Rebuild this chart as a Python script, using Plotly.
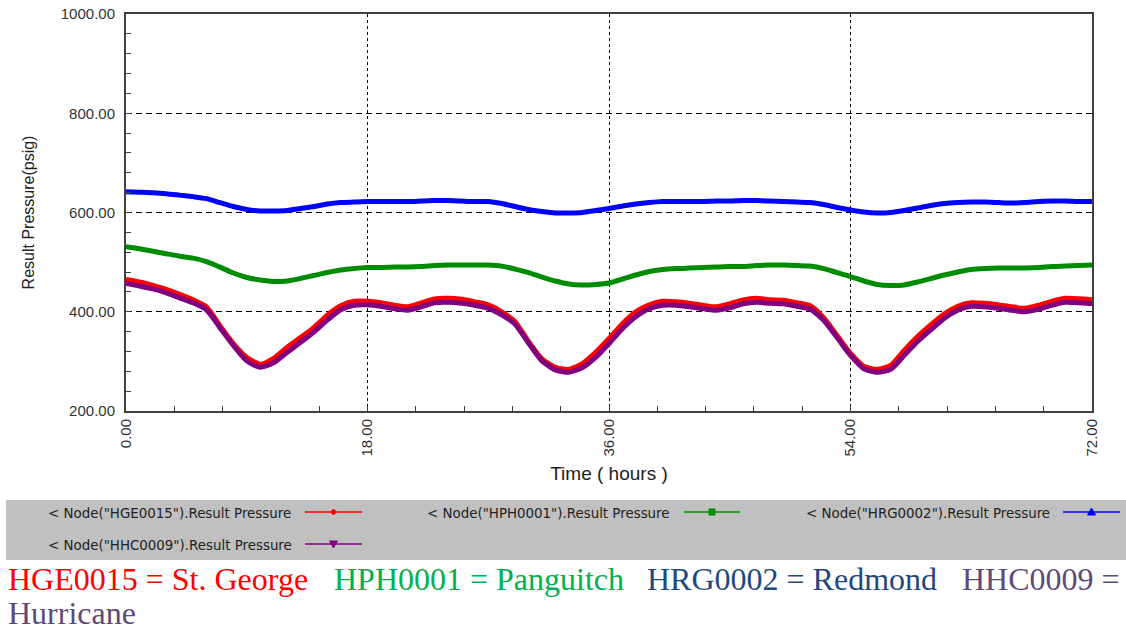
import plotly.graph_objects as go

hours = list(range(0, 73))

hge0015 = [465, 460, 453, 445, 435, 424, 410, 372, 336, 308, 294, 306, 328, 348, 368, 393, 412, 421, 421, 418, 413, 410, 418, 426, 427,
           425, 420, 414, 400, 380, 340, 305, 288, 284, 295, 318, 346, 376, 400, 414, 421, 420, 417, 413, 410, 416, 424, 427, 424,
           423, 418, 412, 388, 352, 316, 290, 284, 292, 322, 350, 374, 396, 411, 418, 417, 414, 410, 407, 413, 421, 427, 426, 424]
hph0001 = [531, 527, 522, 517, 512, 508, 501, 490, 478, 469, 464, 461, 462, 467, 473, 479, 484, 487, 489, 489, 490, 490, 491, 493, 494,
           494, 494, 494, 492, 486, 479, 470, 462, 456, 454, 455, 458, 466, 474, 481, 485, 487, 488, 489, 490, 491, 491, 493, 494,
           494, 493, 492, 487, 479, 471, 462, 455, 453, 454, 460, 467, 474, 480, 485, 487, 488, 488, 488, 489, 491, 492, 493, 494]
hrg0002 = [642, 641, 640, 638, 635, 632, 628, 620, 612, 606, 603, 603, 604, 608, 612, 617, 620, 621, 622, 622, 622, 622, 623, 624, 624,
           623, 622, 622, 618, 612, 606, 602, 599, 599, 600, 604, 608, 613, 617, 620, 622, 622, 622, 622, 623, 623, 624, 624, 623,
           622, 621, 620, 616, 610, 605, 601, 599, 600, 604, 609, 614, 618, 620, 621, 621, 620, 619, 620, 622, 623, 623, 622, 622]
hhc0009 = [457, 452, 446, 438, 428, 418, 404, 368, 332, 301, 288, 297, 318, 338, 359, 383, 404, 413, 414, 411, 406, 403, 410, 418, 419,
           417, 413, 407, 394, 375, 337, 301, 283, 278, 287, 308, 336, 366, 390, 406, 413, 413, 410, 406, 403, 408, 416, 419, 417,
           416, 411, 405, 383, 348, 312, 285, 278, 284, 312, 340, 364, 387, 403, 411, 410, 407, 403, 400, 405, 413, 419, 418, 416]

series_names = ['< Node("HGE0015").Result Pressure', '< Node("HPH0001").Result Pressure',
                '< Node("HRG0002").Result Pressure', '< Node("HHC0009").Result Pressure']
series_colors = ['#FF0000', '#008C00', '#0000FF', '#800080']

x_ticks = [0, 18, 36, 54, 72]
x_tick_labels = ['0.00', '18.00', '36.00', '54.00', '72.00']
y_ticks = [200, 400, 600, 800, 1000]
y_tick_labels = ['200.00', '400.00', '600.00', '800.00', '1000.00']

caption_parts = ['HGE0015 = St. George', 'HPH0001 = Panguitch', 'HRG0002 = Redmond', 'HHC0009 =']
caption_line2 = 'Hurricane'
caption_colors = ['#FF0000', '#00B050', '#1F497D', '#5F497A']

W, H = 1126, 630
L, R, T, B = 126, 34, 14, 219
PW, PH = W - L - R, H - T - B


def px(x):
    return (x - L) / PW


def py(y):
    return (H - B - y) / PH


fig = go.Figure()
for vals, name, col in zip([hge0015, hph0001, hrg0002, hhc0009], series_names, series_colors):
    fig.add_trace(go.Scatter(x=hours, y=vals, mode='lines', name=name,
                             line=dict(color=col, width=5, shape='spline', smoothing=0.6),
                             showlegend=False))

fig.update_layout(
    width=W, height=H,
    margin=dict(l=L, r=R, t=T, b=B, autoexpand=False),
    paper_bgcolor='white', plot_bgcolor='white',
    showlegend=False,
)

fig.update_xaxes(
    range=[0, 72], tickvals=x_ticks, ticktext=x_tick_labels, tickangle=-90,
    tickfont=dict(family='Liberation Sans', size=15, color='#333333'),
    ticks='inside', ticklen=5, tickcolor='#404040',
    minor=dict(dtick=3.6, ticks='inside', ticklen=5, tickcolor='#404040', showgrid=False),
    showgrid=True, gridcolor='#000000', gridwidth=1, griddash='3px,3px',
    showline=True, linecolor='#404040', linewidth=2, mirror=True,
    zeroline=False, automargin=False,
    title=dict(text='Time ( hours )', font=dict(family='Liberation Sans', size=19, color='#222222'), standoff=11),
)
fig.update_yaxes(
    range=[200, 1000], tickvals=y_ticks, ticktext=y_tick_labels,
    tickfont=dict(family='Liberation Sans', size=15, color='#333333'),
    ticks='inside', ticklen=5, tickcolor='#404040',
    minor=dict(dtick=40, ticks='inside', ticklen=5, tickcolor='#404040', showgrid=False),
    showgrid=True, gridcolor='#000000', gridwidth=1, griddash='6px,4px',
    showline=True, linecolor='#404040', linewidth=2, mirror=True,
    zeroline=False, ticklabelstandoff=6, automargin=False,
    title=dict(text='Result Pressure(psig)', font=dict(family='Liberation Sans', size=16, color='#222222'), standoff=22),
)

shapes = []
shapes.append(dict(type='rect', xref='paper', yref='paper', x0=px(6), x1=px(1126), y0=py(560), y1=py(500),
                   fillcolor='#C0C0C0', line=dict(width=0), layer='below'))

legend_pos = [(46, 513, 305, 362), (425, 513, 684, 740), (804, 513, 1063, 1120), (46, 545, 305, 362)]
annotations = []
for i, (name, col) in enumerate(zip(series_names, series_colors)):
    tx, ty, lx0, lx1 = legend_pos[i]
    annotations.append(dict(xref='paper', yref='paper', x=px(tx), y=py(ty), xanchor='left', yanchor='middle',
                            text=name, showarrow=False,
                            font=dict(family='DejaVu Sans', size=13.4, color='#222222')))
    shapes.append(dict(type='line', xref='paper', yref='paper', x0=px(lx0), x1=px(lx1), y0=py(ty - 1), y1=py(ty - 1),
                       line=dict(color=col, width=1.3)))
    cx = (lx0 + lx1) / 2
    cy = ty - 1
    s = 3
    if i == 0:
        path = f'M {px(cx - s)} {py(cy)} L {px(cx)} {py(cy - s)} L {px(cx + s)} {py(cy)} L {px(cx)} {py(cy + s)} Z'
    elif i == 1:
        path = f'M {px(cx - s)} {py(cy - s)} L {px(cx + s)} {py(cy - s)} L {px(cx + s)} {py(cy + s)} L {px(cx - s)} {py(cy + s)} Z'
    elif i == 2:
        path = f'M {px(cx - s - 1)} {py(cy + s)} L {px(cx + s + 1)} {py(cy + s)} L {px(cx)} {py(cy - s - 1)} Z'
    else:
        path = f'M {px(cx - s - 1)} {py(cy - s)} L {px(cx + s + 1)} {py(cy - s)} L {px(cx)} {py(cy + s + 1)} Z'
    shapes.append(dict(type='path', xref='paper', yref='paper', path=path, fillcolor=col, line=dict(color=col, width=1)))

cap_x = [6, 332, 645, 960]
for text, col, cx in zip(caption_parts, caption_colors, cap_x):
    annotations.append(dict(xref='paper', yref='paper', x=px(cx), y=py(579), xanchor='left', yanchor='middle',
                            text=text, showarrow=False,
                            font=dict(family='Liberation Serif', size=32, color=col)))
annotations.append(dict(xref='paper', yref='paper', x=px(6), y=py(613), xanchor='left', yanchor='middle',
                        text=caption_line2, showarrow=False,
                        font=dict(family='Liberation Serif', size=32, color=caption_colors[3])))

fig.update_layout(shapes=shapes, annotations=annotations)

fig.write_html('out.html')
